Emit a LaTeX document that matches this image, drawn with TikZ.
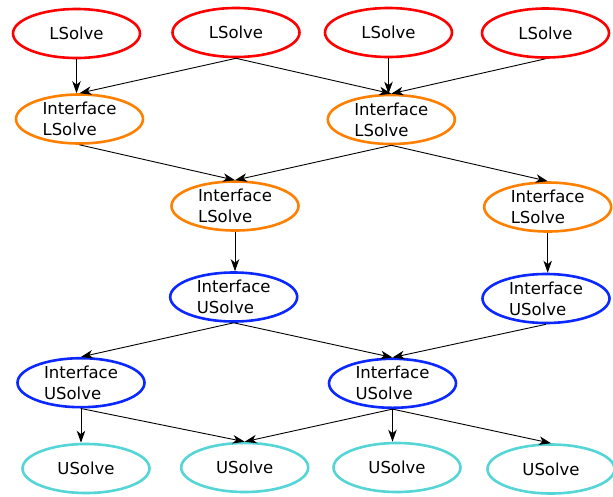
\documentclass[tikz,border=0pt]{standalone}
\usepackage{fontspec}
\setmainfont{DejaVu Sans}
\usetikzlibrary{shapes.geometric,arrows.meta}
\definecolor{cred}{HTML}{FF0000}
\definecolor{corange}{HTML}{FF7F00}
\definecolor{cblue}{HTML}{0A28FF}
\definecolor{ccyan}{HTML}{55D5D5}
\tikzset{
  nd/.style={ellipse, draw, line width=2.6pt, minimum width=127pt, minimum height=49pt, inner sep=0pt,
    font=\fontsize{16.5}{21}\selectfont, align=left},
  lnode/.style={nd, draw=cred},
  ilnode/.style={nd, draw=corange},
  iunode/.style={nd, draw=cblue},
  unode/.style={nd, draw=ccyan},
  edge/.style={line width=0.9pt, -{Stealth[length=12pt,width=8.5pt,inset=3.5pt]}}
}
\begin{document}
\begin{tikzpicture}[x=1pt,y=-1pt]
\useasboundingbox (0,0) rectangle (613,496);
\node[lnode] (r1) at (76.5,33.5) {LSolve};
\node[lnode] (r2) at (236,32.5) {LSolve};
\node[lnode] (r3) at (388.5,32.5) {LSolve};
\node[lnode] (r4) at (545.5,33) {LSolve};
\node[ilnode] (il1) at (79.5,119) {Interface\\LSolve};
\node[ilnode] (il2) at (391.3,119.5) {Interface\\LSolve};
\node[ilnode] (il3) at (235,206) {Interface\\LSolve};
\node[ilnode] (il4) at (547.7,207) {Interface\\LSolve};
\node[iunode] (iu1) at (233.7,297) {Interface\\USolve};
\node[iunode] (iu2) at (546,298.5) {Interface\\USolve};
\node[iunode] (iu3) at (81,382.7) {Interface\\USolve};
\node[iunode] (iu4) at (392.5,383.3) {Interface\\USolve};
\node[unode] (u1) at (86,468.5) {USolve};
\node[unode] (u2) at (244.7,467.5) {USolve};
\node[unode] (u3) at (397,467.5) {USolve};
\node[unode] (u4) at (551,469) {USolve};
\draw[edge] (r1.south) -- (r1.south |- il1.north);
\draw[edge] (r2.south) -- (il1.north);
\draw[edge] (r2.south) -- (il2.north);
\draw[edge] (r3.south) -- (r3.south |- il2.north);
\draw[edge] (r4.south) -- (il2.north);
\draw[edge] (il1.south) -- (il3.north);
\draw[edge] (il2.south) -- (il3.north);
\draw[edge] (il2.south) -- (il4.north);
\draw[edge] (il3.south) -- (il3.south |- iu1.north);
\draw[edge] (il4.south) -- (il4.south |- iu2.north);
\draw[edge] (iu1.south) -- (iu3.north);
\draw[edge] (iu1.south) -- (iu4.north);
\draw[edge] (iu2.south) -- (iu4.north);
\draw[edge] (iu3.south) -- (iu3.south |- u1.north);
\draw[edge] (iu3.south) -- (u2.north);
\draw[edge] (iu4.south) -- (u2.north);
\draw[edge] (iu4.south) -- (iu4.south |- u3.north);
\draw[edge] (iu4.south) -- (u4.north);
\end{tikzpicture}
\end{document}
